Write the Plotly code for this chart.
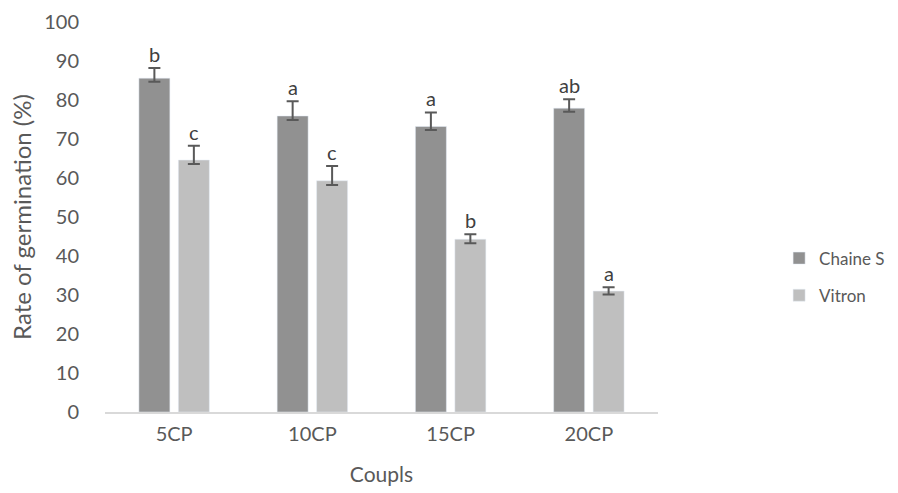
import plotly.graph_objects as go

categories = ["5CP", "10CP", "15CP", "20CP"]
chaine_s = [85.6, 75.9, 73.2, 77.9]
chaine_err_plus = [2.6, 3.8, 3.6, 2.3]
chaine_err_minus = [0.9, 1.0, 0.9, 0.9]
chaine_letters = ["b", "a", "a", "ab"]
vitron = [64.6, 59.3, 44.3, 31.0]
vitron_err_plus = [3.7, 3.8, 1.3, 1.0]
vitron_err_minus = [1.0, 1.1, 1.0, 0.9]
vitron_letters = ["c", "c", "b", "a"]
y_ticks = list(range(0, 101, 10))

FONT = "Lato"
TXT = "#595959"

fig = go.Figure()
fig.add_trace(go.Bar(
    name="Chaine S", x=categories, y=chaine_s, marker_color="#919191",
    legendgroup="g1",
    error_y=dict(type="data", symmetric=False, array=chaine_err_plus,
                 arrayminus=chaine_err_minus, color="#595959", thickness=2, width=6),
))
fig.add_trace(go.Bar(
    name="Vitron", x=categories, y=vitron, marker_color="#bfbfbf",
    legendgroup="g2",
    error_y=dict(type="data", symmetric=False, array=vitron_err_plus,
                 arrayminus=vitron_err_minus, color="#595959", thickness=2, width=6),
))

annotations = []
for i, c in enumerate(categories):
    annotations.append(dict(x=c, y=chaine_s[i] + chaine_err_plus[i], text=chaine_letters[i],
                            xref="x", yref="y", showarrow=False, yanchor="bottom",
                            xshift=-19.75, yshift=0, font=dict(family=FONT, size=20, color="#404040")))
    annotations.append(dict(x=c, y=vitron[i] + vitron_err_plus[i], text=vitron_letters[i],
                            xref="x", yref="y", showarrow=False, yanchor="bottom",
                            xshift=19.75, yshift=0, font=dict(family=FONT, size=20, color="#404040")))

fig.update_layout(
    width=898, height=493,
    margin=dict(l=104.5, r=240, t=22, b=81, autoexpand=False),
    paper_bgcolor="white", plot_bgcolor="white",
    font=dict(family=FONT, size=20, color=TXT),
    barmode="group", bargap=0.429, bargroupgap=0.215,
    showlegend=True,
    legend=dict(x=1.219, xanchor="left", y=0.346, yanchor="middle",
                traceorder="grouped", tracegroupgap=12,
                font=dict(family=FONT, size=17, color=TXT)),
    annotations=annotations,
    xaxis=dict(title=dict(text="Coupls", font=dict(size=21), standoff=24),
               showline=True, linecolor="#d9d9d9", linewidth=1.5,
               ticks="", showgrid=False, tickfont=dict(size=20),
               ticklabelstandoff=3, automargin=False),
    yaxis=dict(title=dict(text="Rate of germination (%)", font=dict(size=24), standoff=5),
               range=[0, 100], tickvals=y_ticks, showgrid=False, showline=False,
               zeroline=False, ticks="", tickfont=dict(size=20),
               ticklabelstandoff=25, automargin=False),
)

fig.write_html("out.html",
               config={"displayModeBar": False},
               post_script="document.body.style.margin='0';document.body.style.overflow='hidden';")
